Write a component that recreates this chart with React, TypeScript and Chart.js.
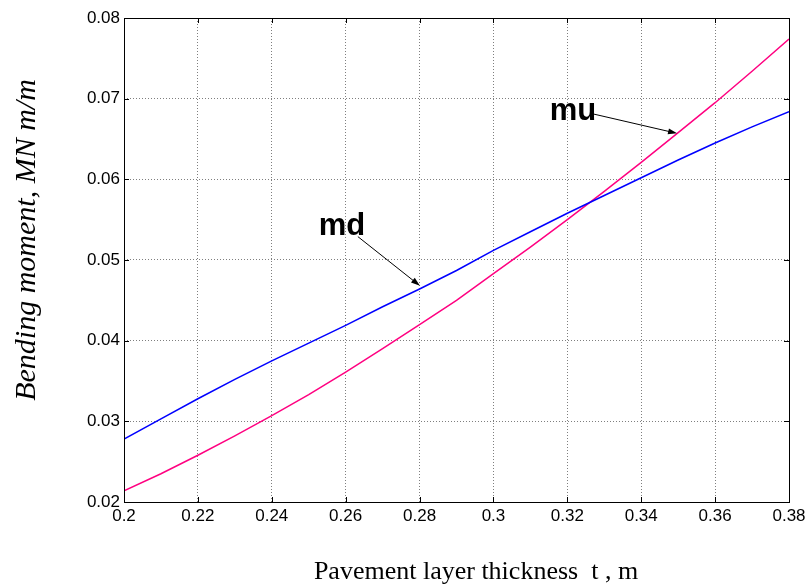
import React, { useEffect, useRef } from "react";
import { Chart, registerables } from "chart.js";

Chart.register(...registerables);

const thickness = [0.2, 0.21, 0.22, 0.23, 0.24, 0.25, 0.26, 0.27, 0.28, 0.29, 0.3, 0.31, 0.32, 0.33, 0.34, 0.35, 0.36, 0.37, 0.38];
const mdValues = [0.0278, 0.0303, 0.0328, 0.0352, 0.0375, 0.0397, 0.0419, 0.0442, 0.0464, 0.0487, 0.0512, 0.0535, 0.0558, 0.058, 0.0602, 0.0624, 0.0645, 0.0665, 0.0684];
const muValues = [0.0214, 0.0235, 0.0258, 0.0282, 0.0307, 0.0333, 0.0361, 0.039, 0.042, 0.045, 0.0483, 0.0516, 0.055, 0.0585, 0.0621, 0.0658, 0.0695, 0.0734, 0.0774];

const xTitle = "Pavement layer thickness  t , m";
const yTitle = "Bending moment, MN m/m";

// annotation labels and arrows, in data coordinates
const labels = [
  { text: "md", x: 0.259, y: 0.0542, fromX: 0.2633, fromY: 0.0529, toX: 0.2801, toY: 0.0468 },
  { text: "mu", x: 0.3215, y: 0.0684, fromX: 0.3261, fromY: 0.0682, toX: 0.3497, toY: 0.0657 },
];

const decorPlugin = {
  id: "decor",
  afterDatasetsDraw(chart: any) {
    const { ctx, chartArea: a, scales } = chart;
    const xs = scales.x;
    const ys = scales.y;
    ctx.save();
    // box
    ctx.strokeStyle = "#000";
    ctx.lineWidth = 1;
    ctx.setLineDash([]);
    ctx.strokeRect(Math.round(a.left) + 0.5, Math.round(a.top) + 0.5, Math.round(a.right - a.left), Math.round(a.bottom - a.top));
    // inward ticks
    const tl = 5;
    ctx.beginPath();
    xs.ticks.forEach((t: any) => {
      const px = Math.round(xs.getPixelForValue(t.value)) + 0.5;
      ctx.moveTo(px, a.bottom);
      ctx.lineTo(px, a.bottom - tl);
      ctx.moveTo(px, a.top);
      ctx.lineTo(px, a.top + tl);
    });
    ys.ticks.forEach((t: any) => {
      const py = Math.round(ys.getPixelForValue(t.value)) + 0.5;
      ctx.moveTo(a.left, py);
      ctx.lineTo(a.left + tl, py);
      ctx.moveTo(a.right, py);
      ctx.lineTo(a.right - tl, py);
    });
    ctx.stroke();

    // annotations
    labels.forEach((l) => {
      ctx.fillStyle = "#000";
      ctx.font = "bold 31px 'Liberation Sans', Arial, sans-serif";
      ctx.textAlign = "center";
      ctx.textBaseline = "middle";
      ctx.fillText(l.text, xs.getPixelForValue(l.x), ys.getPixelForValue(l.y));
      const x1 = xs.getPixelForValue(l.fromX);
      const y1 = ys.getPixelForValue(l.fromY);
      const x2 = xs.getPixelForValue(l.toX);
      const y2 = ys.getPixelForValue(l.toY);
      const ang = Math.atan2(y2 - y1, x2 - x1);
      const hl = 9;
      const hw = 3;
      ctx.strokeStyle = "#000";
      ctx.lineWidth = 1;
      ctx.beginPath();
      ctx.moveTo(x1, y1);
      ctx.lineTo(x2 - Math.cos(ang) * hl * 0.8, y2 - Math.sin(ang) * hl * 0.8);
      ctx.stroke();
      ctx.beginPath();
      ctx.moveTo(x2, y2);
      ctx.lineTo(x2 - Math.cos(ang) * hl - Math.sin(ang) * hw, y2 - Math.sin(ang) * hl + Math.cos(ang) * hw);
      ctx.lineTo(x2 - Math.cos(ang) * hl + Math.sin(ang) * hw, y2 - Math.sin(ang) * hl - Math.cos(ang) * hw);
      ctx.closePath();
      ctx.fill();
    });

    // titles
    ctx.fillStyle = "#000";
    ctx.font = "26px 'Liberation Serif', 'Times New Roman', serif";
    ctx.textAlign = "center";
    ctx.textBaseline = "middle";
    ctx.fillText(xTitle, 476, 572);
    ctx.translate(27, 240);
    ctx.rotate(-Math.PI / 2);
    ctx.font = "italic 30px 'Liberation Serif', 'Times New Roman', serif";
    ctx.fillText(yTitle, 0, 0);
    ctx.restore();
  },
};

export default function App() {
  const ref = useRef<HTMLCanvasElement | null>(null);
  useEffect(() => {
    if (!ref.current) return;
    const tickFont = { family: "'Liberation Sans', Arial, sans-serif", size: 17 };
    const chart = new Chart(ref.current, {
      type: "line",
      data: {
        labels: thickness,
        datasets: [
          {
            label: "md",
            data: thickness.map((t, i) => ({ x: t, y: mdValues[i] })),
            borderColor: "#0000ff",
            borderWidth: 1.5,
            pointRadius: 0,
            tension: 0,
            fill: false,
          },
          {
            label: "mu",
            data: thickness.map((t, i) => ({ x: t, y: muValues[i] })),
            borderColor: "#ff0080",
            borderWidth: 1.5,
            pointRadius: 0,
            tension: 0,
            fill: false,
          },
        ],
      },
      options: {
        responsive: false,
        animation: false,
        events: [],
        layout: { padding: { left: 0, top: 18, right: 16, bottom: 0 } },
        plugins: { legend: { display: false }, tooltip: { enabled: false } },
        scales: {
          x: {
            type: "linear",
            min: 0.2,
            max: 0.38,
            afterFit: (s: any) => {
              s.height = 85;
              s.paddingLeft = 0;
              s.paddingRight = 0;
            },
            afterBuildTicks: (s: any) => {
              s.ticks = thickness.filter((_, i) => i % 2 === 0).map((v) => ({ value: v }));
            },
            ticks: {
              color: "#000",
              font: tickFont,
              padding: 4,
              maxRotation: 0,
              autoSkip: false,
              callback: (v: any) => String(Number(Number(v).toFixed(2))),
            },
            grid: { color: "rgba(0,0,0,0.5)", lineWidth: 1, drawTicks: false },
            border: { display: false, dash: [1, 2] },
          },
          y: {
            type: "linear",
            min: 0.02,
            max: 0.08,
            afterFit: (s: any) => {
              s.width = 124;
              s.paddingTop = 0;
              s.paddingBottom = 0;
            },
            ticks: {
              color: "#000",
              font: tickFont,
              padding: 4,
              stepSize: 0.01,
              callback: (v: any) => Number(v).toFixed(2),
            },
            grid: { color: "rgba(0,0,0,0.5)", lineWidth: 1, drawTicks: false },
            border: { display: false, dash: [1, 2] },
          },
        },
      },
      plugins: [decorPlugin],
    } as any);
    return () => chart.destroy();
  }, []);
  return (
    <div style={{ position: "absolute", left: 0, top: 0, width: 805, height: 587, background: "#fff" }}>
      <canvas ref={ref} width={805} height={587} style={{ display: "block" }} />
    </div>
  );
}
